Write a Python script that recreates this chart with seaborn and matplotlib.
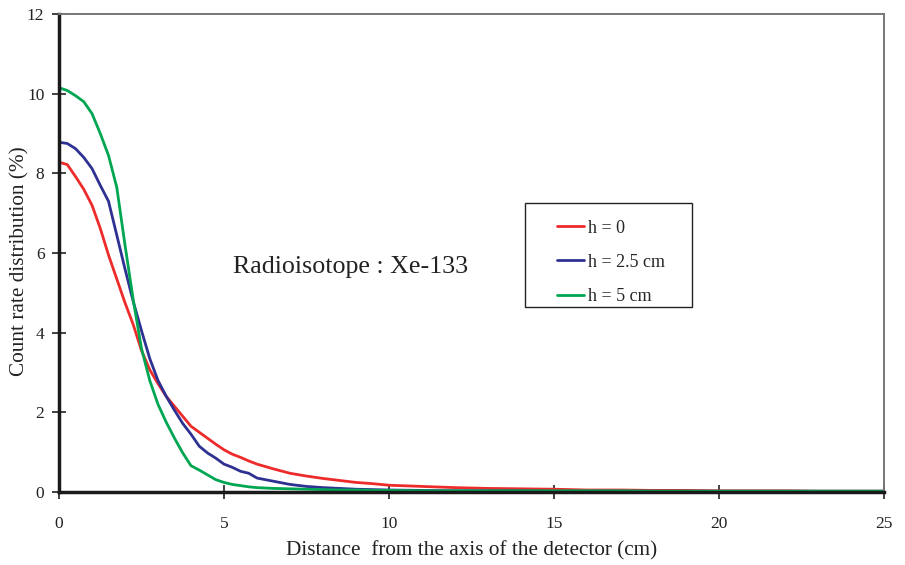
import matplotlib
matplotlib.use("Agg")
import matplotlib.pyplot as plt
from matplotlib.patches import Rectangle
import seaborn as sns
import pandas as pd

# Radial distance from the detector axis (cm)
distance = [0, 0.25, 0.5, 0.75, 1.0, 1.25, 1.5, 1.75, 2.0, 2.25, 2.5, 2.75,
            3.0, 3.25, 3.5, 3.75, 4.0, 4.25, 4.5, 4.75, 5.0, 5.25, 5.5, 5.75,
            6.0, 6.5, 7.0, 7.5, 8.0, 8.5, 9.0, 9.5, 10, 11, 12, 13, 14, 15,
            16, 17, 18, 19, 20, 21, 22, 23, 24, 25]

# Count rate distribution (%) for each source height h
rate_h0 = [8.28, 8.22, 7.92, 7.60, 7.20, 6.62, 5.95, 5.35, 4.75, 4.20, 3.55, 3.07,
           2.72, 2.40, 2.15, 1.90, 1.65, 1.50, 1.35, 1.20, 1.06, 0.95, 0.87, 0.78,
           0.70, 0.58, 0.47, 0.40, 0.34, 0.29, 0.24, 0.21, 0.17, 0.14, 0.11, 0.09,
           0.08, 0.07, 0.05, 0.05, 0.04, 0.04, 0.03, 0.03, 0.03, 0.02, 0.02, 0.02]
rate_h25 = [8.78, 8.75, 8.62, 8.40, 8.12, 7.70, 7.30, 6.45, 5.60, 4.78, 4.05, 3.35,
            2.80, 2.40, 2.05, 1.72, 1.45, 1.15, 0.98, 0.85, 0.70, 0.62, 0.52, 0.47,
            0.35, 0.27, 0.19, 0.14, 0.11, 0.09, 0.07, 0.06, 0.05, 0.04, 0.03, 0.03,
            0.03, 0.02, 0.02, 0.02, 0.02, 0.02, 0.02, 0.02, 0.02, 0.02, 0.02, 0.02]
rate_h5 = [10.15, 10.08, 9.95, 9.80, 9.50, 9.00, 8.45, 7.65, 6.20, 4.82, 3.60, 2.80,
           2.20, 1.75, 1.35, 0.98, 0.66, 0.55, 0.43, 0.31, 0.24, 0.19, 0.16, 0.13,
           0.11, 0.09, 0.08, 0.07, 0.06, 0.05, 0.05, 0.04, 0.04, 0.03, 0.03, 0.03,
           0.03, 0.03, 0.03, 0.03, 0.02, 0.02, 0.02, 0.02, 0.02, 0.02, 0.02, 0.02]

series_names = ["h = 0", "h = 2.5 cm", "h = 5 cm"]
series_colors = ["#ED2B2B", "#2E3192", "#00A651"]

x_ticks = [0, 5, 10, 15, 20, 25]
y_ticks = [0, 2, 4, 6, 8, 10, 12]

frames = []
for name, vals in zip(series_names, [rate_h0, rate_h25, rate_h5]):
    frames.append(pd.DataFrame({"distance": distance, "rate": vals, "series": name}))
df = pd.concat(frames, ignore_index=True)

sns.set_theme(style="white")
plt.rcParams["font.family"] = ["Liberation Serif", "DejaVu Serif"]

fig = plt.figure(figsize=(9.05, 5.65), dpi=100)
ax = fig.add_axes([0.0652, 0.1292, 0.9116, 0.846])

sns.lineplot(data=df, x="distance", y="rate", hue="series",
             palette=dict(zip(series_names, series_colors)),
             hue_order=series_names, linewidth=2.0, ax=ax, legend=False)

ax.set_xlim(0, 25)
ax.set_ylim(0, 12)
ax.set_xticks(x_ticks)
ax.set_yticks(y_ticks)
ax.tick_params(axis="both", direction="inout", length=10, width=1.2,
               colors="#222222", labelsize=12.5, labelcolor="#222222",
               bottom=True, left=True, top=False, right=False)
ax.tick_params(axis="x", pad=12)
ax.tick_params(axis="y", pad=5.5)

for side in ["left", "bottom"]:
    ax.spines[side].set_color("#1a1a1a")
    ax.spines[side].set_linewidth(2.5)
for side in ["top", "right"]:
    ax.spines[side].set_color("#777777")
    ax.spines[side].set_linewidth(1.4)
    ax.spines[side].set_visible(True)

ax.set_xlabel("Distance  from the axis of the detector (cm)", fontsize=15.3,
              color="#222222")
ax.xaxis.set_label_coords(0.5, -0.124)
ax.set_ylabel("Count rate distribution (%)", fontsize=15.3, color="#222222")
ax.yaxis.set_label_coords(-0.047, 0.482)
ax.yaxis.label.set_va("center")
ax.xaxis.label.set_va("center")

ax.text(5.27, 5.65, "Radioisotope : Xe-133", fontsize=18.7, color="#222222",
        va="center", ha="left")

# Legend frame drawn as its own box, entries placed inside it
box = Rectangle((0.565, 0.387), 0.202, 0.218, transform=ax.transAxes,
                facecolor="white", edgecolor="#222222", linewidth=1.0, zorder=4)
ax.add_patch(box)
handles = [plt.Line2D([], [], color=c, linewidth=2.0) for c in series_colors]
leg = ax.legend(handles, series_names, loc="upper left",
                bbox_to_anchor=(0.6035, 0.570), fontsize=13, frameon=False,
                handlelength=1.5, handletextpad=0.2, labelspacing=0.95,
                borderpad=0, borderaxespad=0)
leg.set_zorder(5)

fig.savefig("out.png", dpi=100)
